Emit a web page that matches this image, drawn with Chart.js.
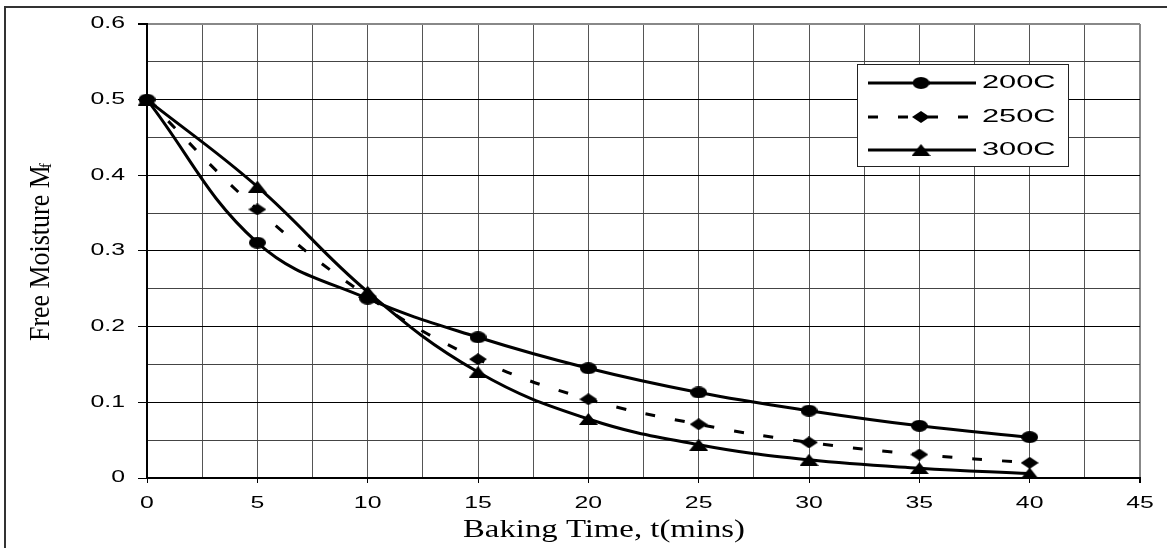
<!DOCTYPE html>
<html>
<head>
<meta charset="utf-8">
<script src="https://cdn.jsdelivr.net/npm/chart.js@4/dist/chart.umd.min.js"></script>
<style>
  html, body { margin: 0; padding: 0; background: #fff; }
  #wrap { width: 1167px; height: 548px; position: relative; }
</style>
</head>
<body>
<div id="wrap"><canvas id="c" width="1167" height="548"></canvas></div>
<script>
// ---- data ----
const times = [0, 5, 10, 15, 20, 25, 30, 35, 40];
const m200 = [0.5, 0.311, 0.237, 0.186, 0.145, 0.113, 0.089, 0.069, 0.054];
const m250 = [0.5, 0.355, 0.240, 0.157, 0.104, 0.071, 0.047, 0.031, 0.020];
const m300 = [0.5, 0.385, 0.246, 0.140, 0.078, 0.044, 0.024, 0.013, 0.006];
const seriesNames = ['200C', '250C', '300C'];
const xTickLabels = ['0', '5', '10', '15', '20', '25', '30', '35', '40', '45'];
const yTickLabels = ['0', '0.1', '0.2', '0.3', '0.4', '0.5', '0.6'];
const xTitle = 'Baking Time, t(mins)';
const yTitle = 'Free Moisture M';
const yTitleSub = 'f';

// ---- marker images (the reference is stretched horizontally) ----
function markerImg(kind, w, h) {
  const c = document.createElement('canvas');
  c.width = w; c.height = h;
  const g = c.getContext('2d');
  g.fillStyle = '#000';
  g.beginPath();
  if (kind === 'circle') {
    g.ellipse(w / 2, h / 2, w / 2, h / 2, 0, 0, Math.PI * 2);
  } else if (kind === 'diamond') {
    g.moveTo(w / 2, 0); g.lineTo(w, h / 2); g.lineTo(w / 2, h); g.lineTo(0, h / 2);
    g.closePath();
  } else {
    g.moveTo(w / 2, 0); g.lineTo(w, h); g.lineTo(0, h); g.closePath();
  }
  g.fill();
  return c;
}
const mkCircle = markerImg('circle', 17, 12);
const mkDiamond = markerImg('diamond', 18, 12);
const mkTriangle = markerImg('triangle', 19, 12);

const pts = arr => times.map((t, i) => ({ x: t, y: arr[i] }));
const isMajor = (v, step) => Math.abs(v / step - Math.round(v / step)) < 1e-6;

function stretchedText(ctx, text, x, y, font, sx, align, baseline) {
  ctx.save();
  ctx.font = font;
  ctx.fillStyle = '#000';
  ctx.textAlign = align;
  ctx.textBaseline = baseline;
  ctx.translate(x, y);
  ctx.scale(sx, 1);
  ctx.fillText(text, 0, 0);
  ctx.restore();
}

const decorPlugin = {
  id: 'decor',
  beforeDraw(chart) {
    const ctx = chart.ctx;
    ctx.save();
    ctx.fillStyle = '#fff';
    ctx.fillRect(0, 0, chart.width, chart.height);
    ctx.strokeStyle = '#333';
    ctx.lineWidth = 2;
    ctx.strokeRect(5, 7, chart.width + 10, chart.height + 10);
    ctx.restore();
  },
  afterDraw(chart) {
    const ctx = chart.ctx;
    const xs = chart.scales.x, ys = chart.scales.y;
    // tick labels
    const tickFont = '16px "Liberation Sans", Arial, sans-serif';
    xTickLabels.forEach(l => {
      stretchedText(ctx, l, xs.getPixelForValue(Number(l)), 504, tickFont, 1.55, 'center', 'middle');
    });
    yTickLabels.forEach(l => {
      stretchedText(ctx, l, 125, ys.getPixelForValue(Number(l)), tickFont, 1.55, 'right', 'middle');
    });
    // x title
    const xFont = '26px "Liberation Serif", "Times New Roman", serif';
    ctx.save();
    ctx.font = xFont;
    const wX = ctx.measureText(xTitle).width;
    ctx.restore();
    stretchedText(ctx, xTitle, 604, 537, xFont, 282 / wX, 'center', 'alphabetic');
    // y title (rotated, condensed like the reference)
    const yFont = '30px "Liberation Serif", "Times New Roman", serif';
    const ySubFont = '17px "Liberation Serif", "Times New Roman", serif';
    ctx.save();
    ctx.font = yFont;
    const wMain = ctx.measureText(yTitle).width;
    ctx.font = ySubFont;
    const wSub = ctx.measureText(yTitleSub).width;
    const total = wMain + wSub - 3;
    const s = 178 / total;
    ctx.translate(49, 252);
    ctx.rotate(-Math.PI / 2);
    ctx.scale(s, 1);
    ctx.fillStyle = '#000';
    ctx.textBaseline = 'alphabetic';
    ctx.textAlign = 'left';
    ctx.font = yFont;
    ctx.fillText(yTitle, -total / 2, 0);
    ctx.font = ySubFont;
    ctx.fillText(yTitleSub, -total / 2 + wMain - 3, 2);
    ctx.restore();
    // legend
    const bx = 857, by = 64, bw = 211, bh = 102;
    ctx.save();
    ctx.fillStyle = '#fff';
    ctx.fillRect(bx, by, bw, bh);
    ctx.strokeStyle = '#222';
    ctx.lineWidth = 1;
    ctx.strokeRect(bx + 0.5, by + 0.5, bw, bh);
    const rows = [83, 117, 150];
    chart.data.datasets.forEach((ds, i) => {
      const y = rows[i];
      ctx.save();
      ctx.strokeStyle = '#000';
      ctx.lineWidth = 3;
      ctx.setLineDash(ds.borderDash || []);
      ctx.beginPath();
      ctx.moveTo(868, y); ctx.lineTo(976, y);
      ctx.stroke();
      ctx.restore();
      const img = ds.pointStyle;
      ctx.drawImage(img, 921 - img.width / 2, y - img.height / 2);
      stretchedText(ctx, ds.label, 982, y, '19px "Liberation Sans", Arial, sans-serif', 1.62, 'left', 'middle');
    });
    ctx.restore();
  }
};

const common = {
  borderColor: '#000',
  backgroundColor: '#000',
  borderWidth: 3,
  tension: 0.4,
  pointRadius: 6,
  pointHoverRadius: 6,
  clip: false,
  fill: false
};

new Chart(document.getElementById('c'), {
  type: 'line',
  data: {
    datasets: [
      Object.assign({ label: seriesNames[0], data: pts(m200), pointStyle: mkCircle }, common),
      Object.assign({ label: seriesNames[1], data: pts(m250), pointStyle: mkDiamond, borderDash: [10, 20] }, common),
      Object.assign({ label: seriesNames[2], data: pts(m300), pointStyle: mkTriangle }, common)
    ]
  },
  options: {
    responsive: false,
    animation: false,
    devicePixelRatio: 1,
    layout: { padding: { left: 0, right: 27, top: 24, bottom: 0 } },
    plugins: { legend: { display: false }, tooltip: { enabled: false }, title: { display: false } },
    scales: {
      x: {
        type: 'linear',
        min: 0, max: 45,
        afterFit: s => { s.height = 70; },
        afterBuildTicks: s => {
          s.ticks = [];
          for (let v = 0; v <= 45.0001; v += 2.5) s.ticks.push({ value: v });
        },
        ticks: { display: false, stepSize: 2.5 },
        border: { display: true, color: '#000', width: 2 },
        grid: {
          color: c => (c.tick && c.tick.value >= 45 - 1e-6) ? '#888' : '#555',
          lineWidth: c => (c.tick && c.tick.value >= 45 - 1e-6) ? 2 : 1,
          tickColor: c => (c.tick && isMajor(c.tick.value, 5)) ? '#000' : 'rgba(0,0,0,0)',
          tickLength: 5,
          drawTicks: true
        }
      },
      y: {
        type: 'linear',
        min: 0, max: 0.6,
        afterFit: s => { s.width = 147; },
        afterBuildTicks: s => {
          s.ticks = [];
          for (let k = 0; k <= 12; k++) s.ticks.push({ value: k * 0.05 });
        },
        ticks: { display: false, stepSize: 0.05 },
        border: { display: true, color: '#000', width: 2 },
        grid: {
          color: c => {
            if (!c.tick) return '#444';
            if (c.tick.value >= 0.6 - 1e-6) return '#888';
            return isMajor(c.tick.value, 0.1) ? '#000' : '#444';
          },
          lineWidth: c => (c.tick && c.tick.value >= 0.6 - 1e-6) ? 2 : 1,
          tickColor: c => (c.tick && isMajor(c.tick.value, 0.1)) ? '#000' : 'rgba(0,0,0,0)',
          tickLength: 9,
          drawTicks: true
        }
      }
    }
  },
  plugins: [decorPlugin]
});
</script>
</body>
</html>
